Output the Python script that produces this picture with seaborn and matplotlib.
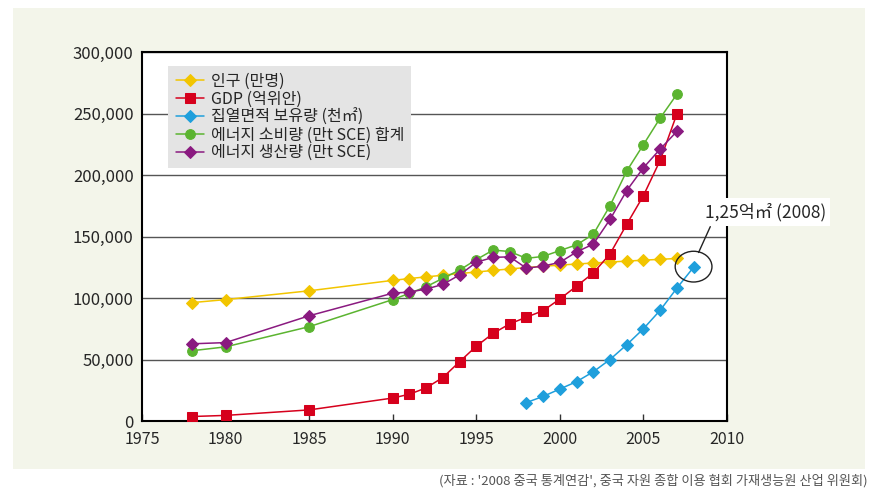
import numpy as np
import pandas as pd
import matplotlib
matplotlib.use('Agg')
import matplotlib.pyplot as plt
from matplotlib.patches import Ellipse, Rectangle
from matplotlib.ticker import FuncFormatter
import seaborn as sns

# data
years = [1978, 1980, 1985, 1990, 1991, 1992, 1993, 1994, 1995, 1996, 1997,
         1998, 1999, 2000, 2001, 2002, 2003, 2004, 2005, 2006, 2007]
population = [96259, 98705, 105851, 114333, 115823, 117171, 118517, 119850,
              121121, 122389, 123626, 124761, 125786, 126743, 127627, 128453,
              129227, 129988, 130756, 131448, 132129]
gdp = [3645, 4546, 9016, 18668, 21781, 26923, 35334, 48198, 60794, 71177,
       78973, 84402, 89677, 99215, 109655, 120333, 135823, 159878, 183217,
       211923, 249530]
energy_use = [57144, 60275, 76682, 98703, 103783, 109170, 115993, 122737,
              131176, 138948, 137798, 132214, 133831, 138553, 143199, 151797,
              174990, 203227, 224682, 246270, 265583]
energy_prod = [62770, 63735, 85546, 103922, 104844, 107256, 111059, 118729,
               129034, 133032, 133460, 124250, 125935, 128978, 137445, 143810,
               163842, 187341, 205876, 221056, 235415]
solar_years = [1998, 1999, 2000, 2001, 2002, 2003, 2004, 2005, 2006, 2007, 2008]
solar_area = [15000, 20000, 26000, 32000, 40000, 50000, 62000, 75000, 90000,
              108000, 125000]

labels = ['인구 (만명)', 'GDP (억위안)', '집열면적 보유량 (천㎡)',
          '에너지 소비량 (만t SCE) 합계', '에너지 생산량 (만t SCE)']
colors = ['#f2c500', '#d6001c', '#1f9fdc', '#5bb430', '#8a1a80']
markers = ['D', 's', 'D', 'o', 'D']
msizes = [6.3, 6.5, 6, 7, 6.5]

series = [(years, population), (years, gdp), (solar_years, solar_area),
          (years, energy_use), (years, energy_prod)]

sns.set_theme(style="white")
plt.rcParams['font.family'] = ['Noto Sans CJK KR', 'DejaVu Sans']

fig = plt.figure(figsize=(8.75, 4.95), dpi=100)
fig.patch.set_facecolor('white')
# beige panel behind the chart
panel = Rectangle((13 / 875, 1 - 469 / 495), (865 - 13) / 875, (469 - 8) / 495,
                  transform=fig.transFigure, facecolor='#f3f5ea',
                  edgecolor='none', zorder=-10)
fig.add_artist(panel)
ax = fig.add_axes([142 / 875, 1 - 421 / 495, (727 - 142) / 875, (421 - 52) / 495])
ax.set_zorder(1)
ax.set_facecolor('white')

for (xs, ys), lab, c, m, ms in zip(series, labels, colors, markers, msizes):
    sns.lineplot(x=xs, y=ys, ax=ax, color=c, marker=m, markersize=ms,
                 markeredgecolor=c, linewidth=1.1, label=lab, zorder=3)

ax.set_xlim(1975, 2010)
ax.set_ylim(0, 300000)
ax.set_xticks(range(1975, 2011, 5))
ax.set_yticks(range(0, 300001, 50000))
ax.yaxis.set_major_formatter(FuncFormatter(lambda v, p: f'{int(v):,}'))
ax.tick_params(axis='x', direction='in', length=5, width=1, color='#333333',
               labelsize=11.5, pad=7, bottom=True)
ax.tick_params(axis='y', length=0, labelsize=12, pad=6)
ax.grid(axis='y', color='#555555', linewidth=1)
ax.set_axisbelow(True)
for s in ax.spines.values():
    s.set_color('black')
    s.set_linewidth(1.5)
ax.set_xlabel('')
ax.set_ylabel('')

leg = ax.legend(loc='upper left', bbox_to_anchor=(0.045, 0.963), borderaxespad=0,
                frameon=True, facecolor='#e4e4e4', edgecolor='none', framealpha=1,
                fontsize=11.5, handlelength=1.8, handletextpad=0.4, labelspacing=0.05,
                borderpad=0.45, fancybox=False)
leg.set_zorder(5)

# annotation for the 2008 collector area
ax.add_patch(Ellipse((2008.0, 125500), width=2.2, height=25000, fill=False,
                     edgecolor='#222222', linewidth=1, clip_on=False, zorder=4))
ax.plot([2008.3, 2009.0], [137000, 158000], color='#222222', lw=1,
        clip_on=False, zorder=4)
ax.text(2012.3, 170000, '1,25억㎡ (2008)', ha='center', va='center',
        fontsize=12.5, clip_on=False, zorder=5,
        bbox=dict(boxstyle='square,pad=0.25', facecolor='white', edgecolor='none'))

fig.text(868 / 875, 1 - 481 / 495,
         "(자료 : '2008 중국 통계연감', 중국 자원 종합 이용 협회 가재생능원 산업 위원회)",
         ha='right', va='center', fontsize=9.5, color='#555555')

fig.savefig('out.png', dpi=100)
